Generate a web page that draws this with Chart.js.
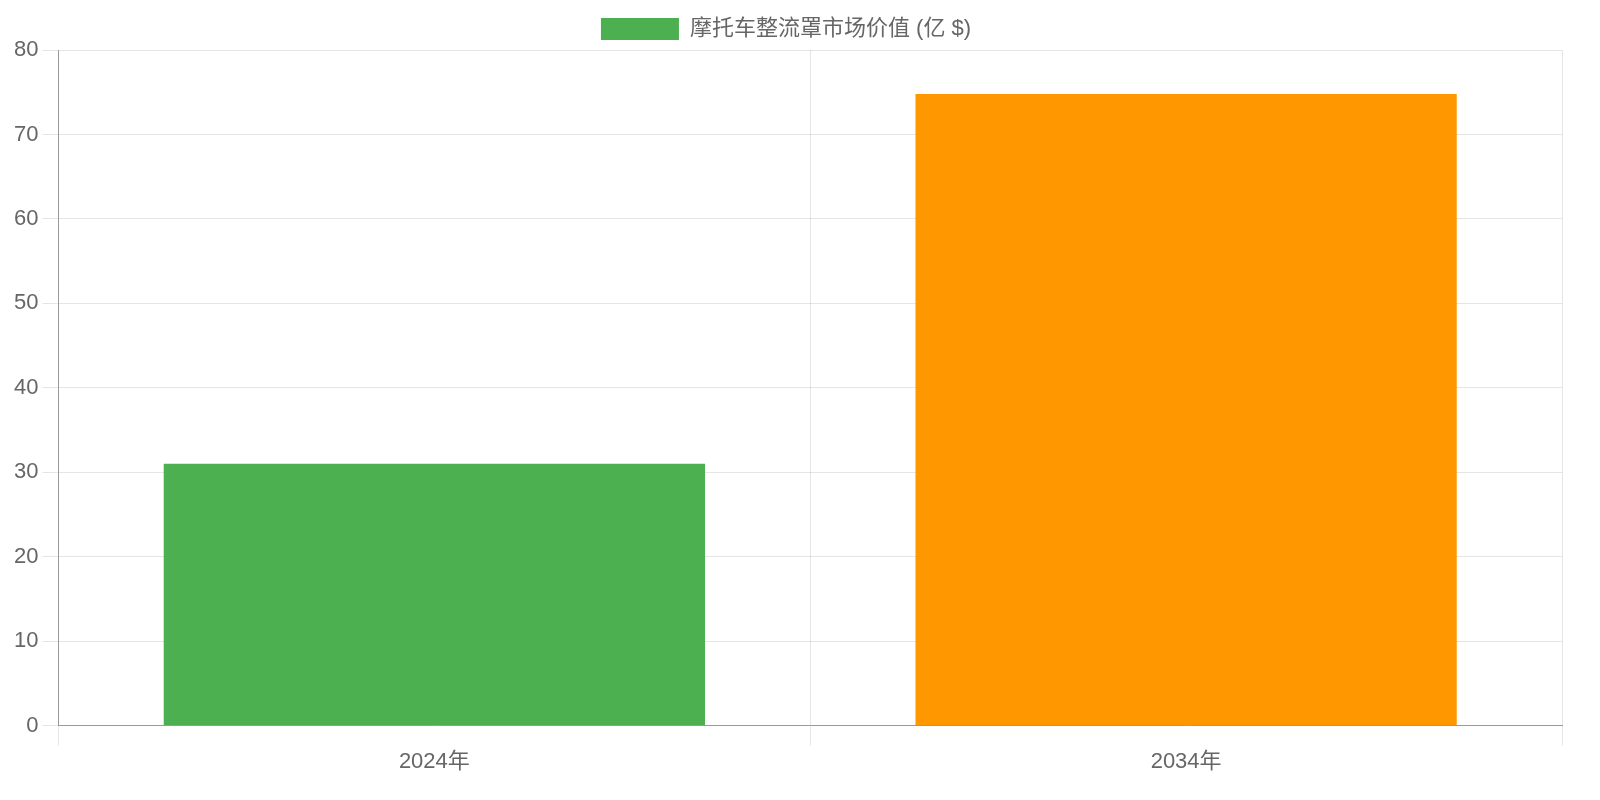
<!DOCTYPE html>
<html><head><meta charset="utf-8">
<script src="https://cdn.jsdelivr.net/npm/chart.js@4"></script>
<style>html,body{margin:0;padding:0;background:#fff}#w{width:1600px;height:800px}</style>
</head><body><div id="w"><canvas id="c"></canvas></div>
<script>
const categories = ["2024年", "2034年"];
const values = [31.0, 74.8];
const seriesLabel = "摩托车整流罩市场价值 (亿 $)";
const barColors = ["#4caf50", "#ff9800"];
Chart.defaults.font.family = "'Liberation Sans', Arial, 'Noto Sans CJK SC', sans-serif";
Chart.defaults.font.size = 22;
Chart.defaults.color = "#666";
new Chart(document.getElementById("c"), {
  type: "bar",
  data: { labels: categories, datasets: [{ label: seriesLabel, data: values, backgroundColor: barColors }] },
  options: {
    responsive: true, maintainAspectRatio: false, animation: false,
    layout: { padding: { top: 8, left: 10, right: 38, bottom: 22 } },
    plugins: { legend: { labels: { boxWidth: 78, boxHeight: 22, padding: 10 } } },
    scales: {
      y: { min: 0, max: 80, ticks: { stepSize: 10, padding: 4 },
           grid: { tickLength: 16 }, border: { color: "#999" } },
      x: { grid: { tickLength: 20 }, border: { color: "#999" } }
    }
  }
});
</script></body></html>
